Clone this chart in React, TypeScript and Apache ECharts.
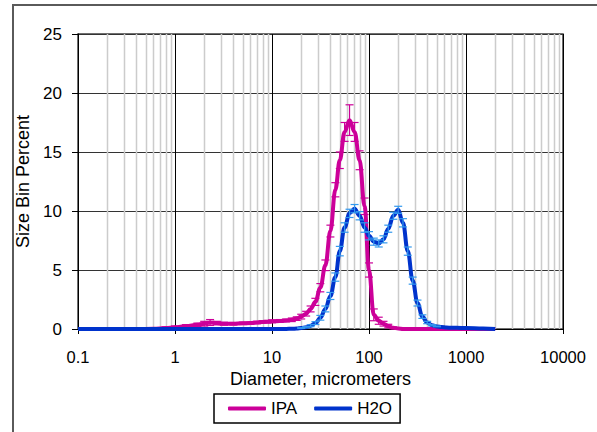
import React, { useEffect, useRef } from "react";
import * as echarts from "echarts";

// Diameter bins (micrometers)
const diameters = [
  0.1, 0.2, 0.4, 0.6, 0.8, 1, 1.3, 1.7, 2, 2.3,
  2.7, 3.2, 4, 5, 6, 7, 8, 9, 10, 12,
  14, 16, 18, 20, 22.5, 25, 28, 31.5, 35.5, 40,
  45, 50, 56, 63, 71, 80, 90, 100, 112, 126,
  141, 158, 178, 200, 224, 251, 282, 316, 355, 398,
  447, 501, 562, 631, 708, 800, 1000, 1500, 2000,
];

// IPA size bin percent
const ipaValues = [
  0, 0, 0, 0.02, 0.08, 0.15, 0.25, 0.35, 0.45, 0.55,
  0.5, 0.45, 0.45, 0.48, 0.5, 0.55, 0.6, 0.62, 0.65, 0.68,
  0.72, 0.78, 0.88, 1.05, 1.3, 1.7, 2.3, 3.5, 5.4, 8.3,
  11.8, 14.3, 16.7, 17.7, 16.7, 14.3, 10.4, 5.0, 1.2, 0.7,
  0.45, 0.25, 0.1, 0.04, 0.01, 0, 0, 0, 0, 0,
  0, 0, 0, 0, 0, 0, 0, 0, 0,
];
const ipaErrors = [
  0, 0, 0, 0.05, 0.1, 0.1, 0.12, 0.15, 0.2, 0.25,
  0.15, 0.12, 0.1, 0.1, 0.1, 0.1, 0.1, 0.1, 0.12, 0.12,
  0.12, 0.15, 0.15, 0.2, 0.2, 0.25, 0.3, 0.35, 0.45, 0.5,
  0.6, 0.7, 0.8, 1.3, 0.8, 0.8, 0.7, 0.6, 0.5, 0.3,
  0.2, 0.15, 0.08, 0.03, 0, 0, 0, 0, 0, 0,
  0, 0, 0, 0, 0, 0, 0, 0, 0,
];

// H2O size bin percent
const h2oValues = [
  0, 0, 0, 0, 0, 0, 0, 0, 0, 0,
  0, 0, 0, 0, 0, 0, 0, 0, 0, 0,
  0.01, 0.02, 0.04, 0.08, 0.15, 0.28, 0.5, 0.95, 1.7, 2.8,
  4.4, 6.6, 8.6, 9.8, 10.2, 9.6, 8.6, 7.9, 7.4, 7.25,
  7.6, 8.5, 9.6, 10.1, 9.0, 6.6, 4.1, 2.2, 1.05, 0.55,
  0.32, 0.22, 0.16, 0.12, 0.1, 0.1, 0.08, 0.04, 0,
];
const h2oErrors = [
  0, 0, 0, 0, 0, 0, 0, 0, 0, 0,
  0, 0, 0, 0, 0, 0, 0, 0, 0, 0,
  0, 0, 0, 0.03, 0.05, 0.08, 0.12, 0.2, 0.25, 0.3,
  0.35, 0.4, 0.4, 0.35, 0.35, 0.35, 0.4, 0.35, 0.3, 0.3,
  0.3, 0.3, 0.3, 0.3, 0.35, 0.35, 0.3, 0.25, 0.15, 0.1,
  0.05, 0.03, 0, 0, 0, 0, 0, 0, 0,
];

const xDecades = [0.1, 1, 10, 100, 1000];
const yTitle = "Size Bin Percent";
const xTitle = "Diameter, micrometers";

const FONT = "'Liberation Sans', Arial, sans-serif";
const IPA_COLOR = "#CC0099";
const H2O_COLOR = "#0033CC";
const H2O_ERR_COLOR = "#3399EE";

function errRender(color: string) {
  return (params: any, api: any) => {
    const x = api.value(0);
    const lo = api.value(1);
    const hi = api.value(2);
    const a = api.coord([x, lo]);
    const b = api.coord([x, hi]);
    const hw = 4;
    const style = { stroke: color, lineWidth: 1.2 };
    return {
      type: "group",
      children: [
        { type: "line", shape: { x1: a[0], y1: a[1], x2: b[0], y2: b[1] }, style },
        { type: "line", shape: { x1: a[0] - hw, y1: a[1], x2: a[0] + hw, y2: a[1] }, style },
        { type: "line", shape: { x1: b[0] - hw, y1: b[1], x2: b[0] + hw, y2: b[1] }, style },
      ],
    };
  };
}

function minorRender(params: any, api: any) {
  const x = api.value(0);
  const a = api.coord([x, 0]);
  const b = api.coord([x, 25]);
  const px = Math.round(a[0]) + 0.5;
  return {
    type: "line",
    shape: { x1: px, y1: a[1], x2: px, y2: b[1] },
    style: { stroke: "#cccccc", lineWidth: 1.5 },
  };
}

export default function App() {
  const ref = useRef<HTMLDivElement>(null);
  useEffect(() => {
    if (!ref.current) return;
    const chart = echarts.init(ref.current, undefined, { renderer: "svg" });

    const minorLines: number[][] = [];
    xDecades.forEach((d) => {
      for (let k = 2; k <= 9; k++) minorLines.push([Number((d * k).toPrecision(3)), 0]);
    });

    const ipaLine = diameters.map((d, i) => [d, ipaValues[i]]);
    const h2oLine = diameters.map((d, i) => [d, h2oValues[i]]);
    const ipaErr = diameters
      .map((d, i) => [d, ipaValues[i] - ipaErrors[i], ipaValues[i] + ipaErrors[i], ipaErrors[i]])
      .filter((r) => r[3] > 0);
    const h2oErr = diameters
      .map((d, i) => [d, h2oValues[i] - h2oErrors[i], h2oValues[i] + h2oErrors[i], h2oErrors[i]])
      .filter((r) => r[3] > 0);

    const option: any = {
      animation: false,
      textStyle: { fontFamily: FONT },
      graphic: [
        {
          type: "rect",
          shape: { x: 13, y: 5, width: 700, height: 600 },
          style: { fill: "none", stroke: "#5a5a5a", lineWidth: 2 },
          silent: true,
        },
      ],
      grid: {
        left: 78,
        top: 34,
        right: 34,
        bottom: 103,
        show: true,
        borderColor: "#404040",
        borderWidth: 1.5,
        backgroundColor: "transparent",
      },
      legend: {
        data: ["IPA", "H2O"],
        left: 214,
        top: 394,
        padding: [5, 8, 5, 14],
        icon: "roundRect",
        itemWidth: 38,
        itemHeight: 4,
        itemGap: 17,
        borderColor: "#000",
        borderWidth: 1.5,
        textStyle: { fontSize: 17, color: "#000", fontFamily: FONT, lineHeight: 19 },
      },
      xAxis: {
        type: "log",
        logBase: 10,
        min: 0.1,
        max: 10000,
        name: xTitle,
        nameLocation: "middle",
        nameGap: 40,
        nameTextStyle: { fontSize: 18, color: "#000", fontFamily: FONT },
        axisLine: { show: true, onZero: false, lineStyle: { color: "#000", width: 1 } },
        axisTick: { show: true, length: 5, lineStyle: { color: "#000" } },
        axisLabel: {
          fontSize: 16.5,
          color: "#000",
          margin: 19,
          formatter: (v: number) => String(Number(v.toPrecision(3))),
        },
        splitLine: { show: true, lineStyle: { color: "#000", width: 1 } },
      },
      yAxis: {
        type: "value",
        min: 0,
        max: 25,
        interval: 5,
        name: yTitle,
        nameLocation: "middle",
        nameGap: 40,
        nameRotate: 90,
        nameTextStyle: { fontSize: 18, color: "#000", fontFamily: FONT },
        axisLine: { show: true, lineStyle: { color: "#000", width: 1 } },
        axisTick: { show: true, length: 6, lineStyle: { color: "#000" } },
        axisLabel: { fontSize: 17, color: "#000", margin: 16 },
        splitLine: { show: true, lineStyle: { color: "#333", width: 1.2 } },
      },
      series: [
        {
          name: "minor",
          type: "custom",
          data: minorLines,
          encode: { x: 0, y: 1 },
          renderItem: minorRender,
          z: 1,
          silent: true,
        },
        {
          name: "IPA",
          type: "line",
          data: ipaLine,
          smooth: 0.4,
          smoothMonotone: "x",
          symbol: "none",
          z: 3,
          lineStyle: { color: IPA_COLOR, width: 4 },
          itemStyle: { color: IPA_COLOR },
        },
        {
          name: "IPA err",
          type: "custom",
          data: ipaErr,
          encode: { x: 0, y: [1, 2] },
          renderItem: errRender(IPA_COLOR),
          z: 4,
          silent: true,
        },
        {
          name: "H2O",
          type: "line",
          data: h2oLine,
          smooth: 0.4,
          smoothMonotone: "x",
          symbol: "none",
          z: 5,
          lineStyle: { color: H2O_COLOR, width: 4 },
          itemStyle: { color: H2O_COLOR },
        },
        {
          name: "H2O err",
          type: "custom",
          data: h2oErr,
          encode: { x: 0, y: [1, 2] },
          renderItem: errRender(H2O_ERR_COLOR),
          z: 6,
          silent: true,
        },
      ],
    };
    chart.setOption(option);
    return () => chart.dispose();
  }, []);
  return (
    <div
      ref={ref}
      style={{ position: "absolute", left: 0, top: 0, width: 597, height: 432, background: "#fff" }}
    />
  );
}
